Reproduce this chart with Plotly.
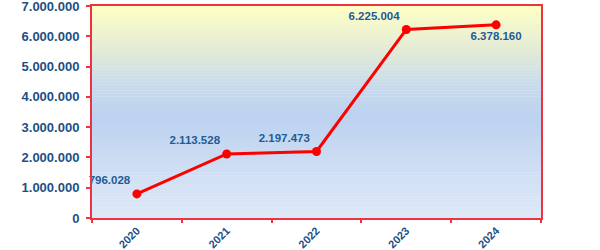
import plotly.graph_objects as go

years = ["2020", "2021", "2022", "2023", "2024"]
values = [796028, 2113528, 2197473, 6225004, 6378160]
label_pos = ["top left", "top left", "top left", "top left", "bottom center"]
y_ticks = [0, 1000000, 2000000, 3000000, 4000000, 5000000, 6000000, 7000000]

AXIS_RED = "#EE3340"
LABEL_BLUE = "#1F5C96"
TICK_BLUE = "#1D4F86"

# gradient stops (fraction from bottom, rgb)
stops = [
    (0.0, (222, 233, 248)),
    (0.25, (205, 221, 243)),
    (0.48, (188, 210, 240)),
    (0.62, (200, 218, 236)),
    (0.80, (228, 236, 214)),
    (1.0, (255, 255, 197)),
]


def interp(f):
    for (f0, c0), (f1, c1) in zip(stops[:-1], stops[1:]):
        if f0 <= f <= f1:
            t = (f - f0) / (f1 - f0) if f1 > f0 else 0
            return "rgb(%d,%d,%d)" % tuple(round(a + (b - a) * t) for a, b in zip(c0, c1))
    return "rgb(%d,%d,%d)" % stops[-1][1]


shapes = []
n = 70
for i in range(n):
    y0 = i / n
    y1 = (i + 1) / n
    shapes.append(dict(type="rect", xref="x domain", yref="y domain",
                       x0=0, x1=1, y0=y0, y1=y1 + 0.002,
                       fillcolor=interp((y0 + y1) / 2), line=dict(width=0),
                       layer="below"))

fig = go.Figure()
fig.add_trace(go.Scatter(
    x=years, y=values, mode="lines+markers+text",
    line=dict(color="#FF0000", width=3),
    marker=dict(color="#FF0000", size=9),
    text=[f"{v:,}".replace(",", ".") for v in values],
    textposition=label_pos,
    textfont=dict(family="Arial, Liberation Sans", size=11.5, color=LABEL_BLUE, weight="bold"),
    cliponaxis=False,
    hoverinfo="skip",
))

fig.update_layout(
    width=600, height=250,
    margin=dict(l=92, r=59, t=6, b=32, autoexpand=False),
    paper_bgcolor="white", plot_bgcolor="white",
    shapes=shapes,
    showlegend=False,
    separators=",.",
)
fig.update_xaxes(
    type="category", range=[-0.5, len(years) - 0.5], automargin=False, showgrid=False,
    showline=True, linecolor=AXIS_RED,
    linewidth=2, mirror=True, ticks="outside", tickson="boundaries", ticklen=3,
    tickcolor=AXIS_RED, tickwidth=2, tickangle=-45,
    tickfont=dict(family="Arial, Liberation Sans", size=11, color=TICK_BLUE, weight="bold"),
)
fig.update_yaxes(
    range=[0, 7000000], automargin=False, tickvals=y_ticks,
    ticktext=[f"{v:,}".replace(",", ".") for v in y_ticks],
    showgrid=False, zeroline=False, showline=True, linecolor=AXIS_RED, linewidth=2,
    mirror=True, ticks="outside", ticklen=4, tickcolor=AXIS_RED, tickwidth=2,
    ticklabelstandoff=4, ticklabeloverflow="allow",
    tickfont=dict(family="Arial, Liberation Sans", size=13, color=TICK_BLUE, weight="bold"),
)

fig.write_html("out.html")
